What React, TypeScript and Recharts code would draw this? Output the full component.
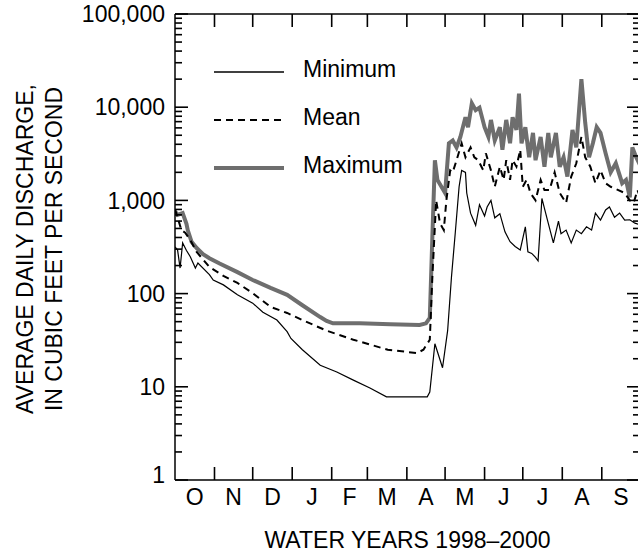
import { LineChart, Line, XAxis, YAxis, Legend } from "recharts";

// water year, x = days since Oct 1
const monthStarts = [0, 31, 61, 92, 123, 151, 182, 212, 243, 273, 304, 335, 365];
const monthLabels = ["O", "N", "D", "J", "F", "M", "A", "M", "J", "J", "A", "S"];

const decadeTicks = [1, 10, 100, 1000, 10000, 100000];
const decadeLabels = ["1", "10", "100", "1,000", "10,000", "100,000"];

const maxDays = [
  0, 2, 6, 9, 10, 13, 17, 22, 27, 35, 49, 61, 75, 88, 100, 114, 119, 124, 145, 169,
  192, 197, 200, 202, 204, 206, 212, 215, 218, 221, 224, 228, 230, 233, 236, 239, 243, 246, 248, 251,
  255, 257, 260, 263, 265, 268, 270, 272, 275, 278, 281, 283, 287, 290, 293, 295, 299, 302, 305, 308,
  312, 315, 319, 322, 325, 328, 331, 334, 338, 342, 346, 351, 354, 357, 359, 362, 365,
];
const maxValues = [
  760, 700, 730, 560, 480, 360, 308, 265, 240, 210, 170, 140, 115, 97, 75, 56, 51, 48, 48, 47,
  46, 48, 55, 400, 2700, 1660, 1200, 4100, 4400, 3700, 4800, 7800, 6100, 11000, 9300, 9900, 6100, 4800, 7300, 4400,
  6100, 3500, 7300, 4100, 7800, 5700, 14000, 4100, 6100, 2900, 5300, 2700, 4800, 2300, 5300, 2900, 5300, 2300, 2900, 1800,
  5700, 3700, 20000, 6800, 2900, 4100, 6100, 5300, 3200, 2000, 2500, 1530, 1660, 1080, 3700, 2900, 2400,
];

const meanDays = [
  0, 2, 5, 8, 12, 17, 27, 38, 49, 61, 75, 88, 100, 119, 140, 167, 190, 195, 200, 202,
  205, 208, 211, 213, 216, 218, 221, 225, 228, 232, 235, 238, 242, 244, 248, 251, 255, 258, 260, 263,
  265, 268, 271, 273, 276, 279, 283, 287, 290, 294, 298, 302, 307, 311, 315, 319, 322, 326, 330, 334,
  338, 342, 348, 353, 357, 360, 363, 365,
];
const meanValues = [
  800, 660, 480, 450, 376, 280, 193, 155, 130, 101, 72, 62, 52, 40, 32, 25, 23, 25, 32, 150,
  1000, 570, 480, 1000, 2100, 2000, 2700, 4100, 2900, 3700, 2900, 2700, 2100, 3200, 2100, 1400, 2300, 1660, 2700, 1660,
  2700, 2300, 3500, 1400, 1660, 1200, 1000, 1660, 1290, 1290, 2000, 1200, 940, 1800, 2500, 4800, 2900, 2300, 1530, 2100,
  1530, 1400, 1290, 1200, 1000, 940, 1290, 1100,
];

const minDays = [
  0, 2, 4, 6, 9, 12, 16, 18, 27, 30, 38, 49, 61, 69, 80, 88, 91, 100, 114, 127,
  140, 153, 166, 198, 200, 204, 210, 214, 217, 220, 223, 225, 228, 229, 232, 236, 239, 243, 245, 248,
  251, 255, 259, 263, 267, 271, 275, 277, 280, 283, 285, 288, 292, 297, 301, 303, 307, 311, 315, 319,
  323, 327, 330, 334, 338, 341, 345, 349, 353, 357, 361, 365,
];
const minValues = [
  316, 295, 188, 350, 290, 249, 188, 213, 160, 140, 124, 97, 79, 63, 52, 39, 33, 25, 17, 14.4,
  11.8, 9.7, 7.8, 7.8, 8.8, 29, 16, 40, 150, 450, 1400, 2100, 2000, 1200, 730, 540, 900, 680, 850, 1000,
  650, 720, 460, 360, 320, 294, 520, 280, 270, 245, 225, 1050, 640, 350, 600, 440, 480, 350, 480, 440,
  520, 480, 730, 616, 790, 850, 660, 730, 616, 620, 570, 550,
];

const FONT = "'Liberation Sans', Arial, Helvetica, sans-serif";
const GRAY = "#6e6e6e";
const TICK_W = 1.6;

const minData = minDays.map((d, i) => ({ day: d, min: minValues[i] }));
const meanData = meanDays.map((d, i) => ({ day: d, mean: meanValues[i] }));
const maxData = maxDays.map((d, i) => ({ day: d, max: maxValues[i] }));

const minorTicks = decadeTicks
  .slice(0, -1)
  .flatMap((d) => [2, 3, 4, 5, 6, 7, 8, 9].map((m) => d * m));
const yTicks = [...decadeTicks, ...minorTicks].sort((a, b) => a - b);
const monthMids = monthLabels.map((_, i) => (monthStarts[i] + monthStarts[i + 1]) / 2);
const bottomTicks = [...monthStarts, ...monthMids].sort((a, b) => a - b);

const legendOrder = [
  { name: "Minimum", stroke: "#000", width: 1.3, dash: undefined },
  { name: "Mean", stroke: "#000", width: 2, dash: "7 5" },
  { name: "Maximum", stroke: GRAY, width: 4, dash: undefined },
];

const LeftTick = (props: any) => {
  const x = Number(props.x);
  const y = Number(props.y);
  const v = props.payload.value;
  const idx = decadeTicks.indexOf(v);
  const major = idx >= 0;
  return (
    <g>
      <path d={`M${x},${y}H${x + (major ? 13 : 7)}`} stroke="#000" strokeWidth={TICK_W} fill="none" />
      {major && (
        <text
          x={x - 10}
          y={v === 1 ? y - 5 : y}
          dy="0.36em"
          textAnchor="end"
          fontSize={23}
          fontFamily={FONT}
          fill="#000"
        >
          {decadeLabels[idx]}
        </text>
      )}
    </g>
  );
};

const RightTick = (props: any) => {
  const x = Number(props.x);
  const y = Number(props.y);
  const major = decadeTicks.includes(props.payload.value);
  return <path d={`M${x},${y}H${x - (major ? 13 : 7)}`} stroke="#000" strokeWidth={TICK_W} fill="none" />;
};

const TopTick = (props: any) => {
  const x = Number(props.x);
  const y = Number(props.y);
  const v = props.payload.value;
  if (v === 0 || v === 365) return <g />;
  return <path d={`M${x},${y}V${y + 13}`} stroke="#000" strokeWidth={TICK_W} fill="none" />;
};

const BottomTick = (props: any) => {
  const x = Number(props.x);
  const y = Number(props.y);
  const v = props.payload.value;
  if (monthStarts.includes(v)) {
    if (v === 0 || v === 365) return <g />;
    return <path d={`M${x},${y}V${y - 13}`} stroke="#000" strokeWidth={TICK_W} fill="none" />;
  }
  const m = monthMids.indexOf(v);
  return (
    <text x={x} y={y + 25} textAnchor="middle" fontSize={23} fontFamily={FONT} fill="#000">
      {monthLabels[m]}
    </text>
  );
};

const renderYTitle = (props: any) => {
  const vb = props.viewBox;
  const cy = vb.y + vb.height / 2;
  return (
    <g fontSize={23} fontFamily={FONT} fill="#000">
      <text transform={`translate(33, ${cy + 2}) rotate(-90)`} textAnchor="middle">
        AVERAGE DAILY DISCHARGE,
      </text>
      <text transform={`translate(62, ${cy + 2}) rotate(-90)`} textAnchor="middle">
        IN CUBIC FEET PER SECOND
      </text>
    </g>
  );
};

const renderXTitle = (props: any) => {
  const vb = props.viewBox;
  return (
    <text
      x={vb.x + vb.width / 2}
      y={vb.y + 68}
      textAnchor="middle"
      fontSize={23}
      fontFamily={FONT}
      fill="#000"
    >
      WATER YEARS 1998–2000
    </text>
  );
};

const LegendBox = () => (
  <svg width={240} height={150} style={{ overflow: "visible" }}>
    {legendOrder.map((item, i) => {
      const y = 22 + i * 48;
      return (
        <g key={item.name}>
          <line
            x1={0}
            x2={70}
            y1={y}
            y2={y}
            stroke={item.stroke}
            strokeWidth={item.width}
            strokeDasharray={item.dash}
          />
          <text x={89} y={y - 3} dy="0.36em" fontSize={23} fontFamily={FONT} fill="#000">
            {item.name}
          </text>
        </g>
      );
    })}
  </svg>
);

export default function App() {
  return (
    <div
      style={{
        position: "absolute",
        left: 0,
        top: 0,
        width: 638,
        height: 558,
        overflow: "hidden",
        background: "#fff",
      }}
    >
      <LineChart width={642} height={558} margin={{ top: 0, right: 0, bottom: 0, left: 0 }}>
        <XAxis
          dataKey="day"
          type="number"
          domain={[0, 365]}
          allowDataOverflow
          ticks={bottomTicks}
          interval={0}
          tick={BottomTick}
          tickLine={false}
          tickSize={0}
          tickMargin={0}
          height={78}
          axisLine={{ stroke: "#000", strokeWidth: 1.5 }}
          label={renderXTitle}
        />
        <XAxis
          xAxisId="top"
          orientation="top"
          dataKey="day"
          type="number"
          domain={[0, 365]}
          allowDataOverflow
          ticks={monthStarts}
          interval={0}
          tick={TopTick}
          tickLine={false}
          tickSize={0}
          tickMargin={0}
          height={14}
          axisLine={{ stroke: "#000", strokeWidth: 1.5 }}
        />
        <YAxis
          type="number"
          scale="log"
          domain={[1, 100000]}
          allowDataOverflow
          ticks={yTicks}
          interval={0}
          tick={LeftTick}
          tickLine={false}
          tickSize={0}
          tickMargin={0}
          width={175}
          axisLine={{ stroke: "#000", strokeWidth: 1.5 }}
          label={renderYTitle}
        />
        <YAxis
          yAxisId="right"
          orientation="right"
          type="number"
          scale="log"
          domain={[1, 100000]}
          allowDataOverflow
          ticks={yTicks}
          interval={0}
          tick={RightTick}
          tickLine={false}
          tickSize={0}
          tickMargin={0}
          width={2}
          axisLine={{ stroke: "#000", strokeWidth: 1.5 }}
        />
        <Legend
          layout="vertical"
          align="center"
          verticalAlign="middle"
          content={LegendBox}
          wrapperStyle={{ left: 214, top: 50, width: 240, height: 150 }}
        />
        <Line
          data={maxData}
          dataKey="max"
          name="Maximum"
          type="linear"
          stroke={GRAY}
          strokeWidth={4}
          dot={false}
          isAnimationActive={false}
        />
        <Line
          data={meanData}
          dataKey="mean"
          name="Mean"
          type="linear"
          stroke="#000"
          strokeWidth={2}
          strokeDasharray="7 5"
          dot={false}
          isAnimationActive={false}
        />
        <Line
          data={minData}
          dataKey="min"
          name="Minimum"
          type="linear"
          stroke="#000"
          strokeWidth={1.2}
          dot={false}
          isAnimationActive={false}
        />
      </LineChart>
    </div>
  );
}
